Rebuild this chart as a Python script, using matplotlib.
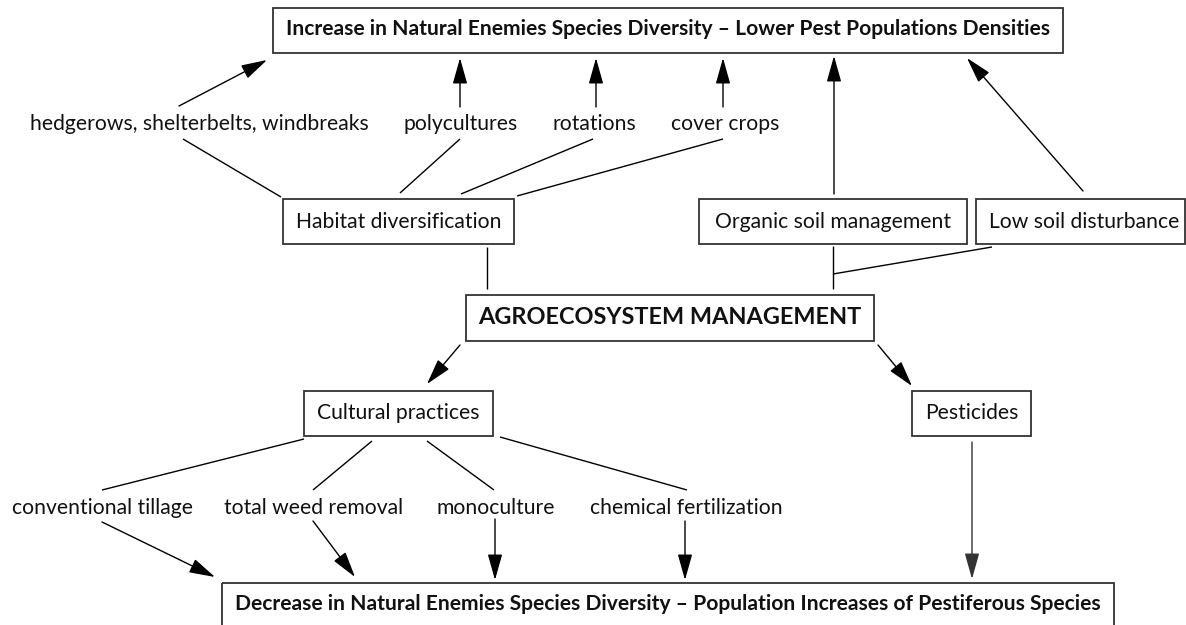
import matplotlib.pyplot as plt
from matplotlib.patches import Rectangle

plt.rcParams['font.family'] = ['Lato', 'DejaVu Sans']

# texts of the diagram
top_text = "Increase in Natural Enemies Species Diversity – Lower Pest Populations Densities"
bottom_text = "Decrease in Natural Enemies Species Diversity – Population Increases of Pestiferous Species"
center_text = "AGROECOSYSTEM MANAGEMENT"
upper_boxes = ["Habitat diversification", "Organic soil management", "Low soil disturbance"]
lower_boxes = ["Cultural practices", "Pesticides"]
habitat_items = ["hedgerows, shelterbelts, windbreaks", "polycultures", "rotations", "cover crops"]
cultural_items = ["conventional tillage", "total weed removal", "monoculture", "chemical fertilization"]

W, H = 1186, 625
fig = plt.figure(figsize=(W / 100, H / 100), dpi=100)
ax = fig.add_axes([0, 0, 1, 1])
ax.set_xlim(0, W)
ax.set_ylim(H, 0)
ax.axis('off')
renderer = fig.canvas.get_renderer()

# layout in pixels: (x centre, baseline, target width)
top_pos = (668, 35, 763)
bottom_pos = (668, 610, 865)
center_pos = (670, 324, 383)
upper_pos = [(398.5, 228, 205), (833, 228, 242), (1084.5, 228, 189)]
lower_pos = [(398.5, 419, 163), (972, 419, 92)]
habitat_pos = [(199, 130, 337), (461, 130, 112), (594, 130, 82), (725, 130, 106)]
cultural_pos = [(102.5, 514, 181), (314, 514, 176), (495.5, 514, 119), (686, 514, 194)]

# boxes: x0, x1, y0, y1
box_top = (272.5, 1063, 7.5, 52.5)
box_bottom = (222, 1114, 583, 640)
box_center = (466, 874, 295, 341)
box_upper = [(283, 514, 199, 244), (699, 967, 199, 244), (976, 1185, 199, 244)]
box_lower = [(304, 493, 391, 436), (912, 1031, 391, 436)]


def group_size(texts, widths, weight):
    # one font size per group, fitted to the measured widths
    measured = 0
    for t in texts:
        tx = ax.text(0, 0, t, fontsize=10, fontweight=weight)
        measured += tx.get_window_extent(renderer).width
        tx.remove()
    return 10 * sum(widths) / measured


def put(texts, positions, weight):
    size = group_size(texts, [p[2] for p in positions], weight)
    for t, (x, y, _) in zip(texts, positions):
        ax.text(x, y, t, fontsize=size, fontweight=weight, ha='center',
                va='baseline', color='#111111')


def box(b):
    x0, x1, y0, y1 = b
    ax.add_patch(Rectangle((x0, y0), x1 - x0, y1 - y0, fill=False,
                           edgecolor='#333333', lw=1.3))


def line(p, q):
    ax.plot([p[0], q[0]], [p[1], q[1]], color='black', lw=1.0,
            solid_capstyle='butt')


def arrow(p, q, color='black'):
    ax.annotate("", xy=q, xytext=p,
                arrowprops=dict(arrowstyle="-|>,head_length=1.6,head_width=0.45",
                                mutation_scale=10, lw=1.0, color=color,
                                shrinkA=0, shrinkB=0))


for b in [box_top, box_bottom, box_center] + box_upper + box_lower:
    box(b)

put([top_text], [top_pos], 'bold')
put([bottom_text], [bottom_pos], 'bold')
put([center_text], [center_pos], 'bold')
put(upper_boxes + lower_boxes + habitat_items + cultural_items,
    upper_pos + lower_pos + habitat_pos + cultural_pos, 'normal')

# habitat diversification -> items -> top
line((183, 139), (281, 197))
line((460, 139), (400, 193))
line((593, 139), (461, 194))
line((723, 139), (517, 196))
arrow((179, 106), (267, 60))
arrow((460, 107), (460, 58))
arrow((596, 107), (596, 58))
arrow((723, 107), (723, 58))

# soil boxes -> top
arrow((834, 194), (834, 56))
arrow((1083, 191), (967, 58))

# connections to AGROECOSYSTEM MANAGEMENT
line((487, 247), (487, 289))
line((833, 246), (833, 289))
line((992, 247), (833, 274))

# management -> cultural practices / pesticides
arrow((460, 345), (427, 384))
arrow((878, 345), (912, 386))

# cultural practices -> items -> bottom
line((304, 439), (102, 490))
line((372, 441), (313, 490))
line((427, 441), (494, 490))
line((500, 437), (687, 490))
arrow((102, 522), (215, 577))
arrow((313, 521), (355, 577))
arrow((495, 519), (495, 580))
arrow((685, 521), (685, 580))
arrow((972, 442), (972, 579), color='#333333')

fig.savefig("out.png", dpi=100, facecolor='white')
